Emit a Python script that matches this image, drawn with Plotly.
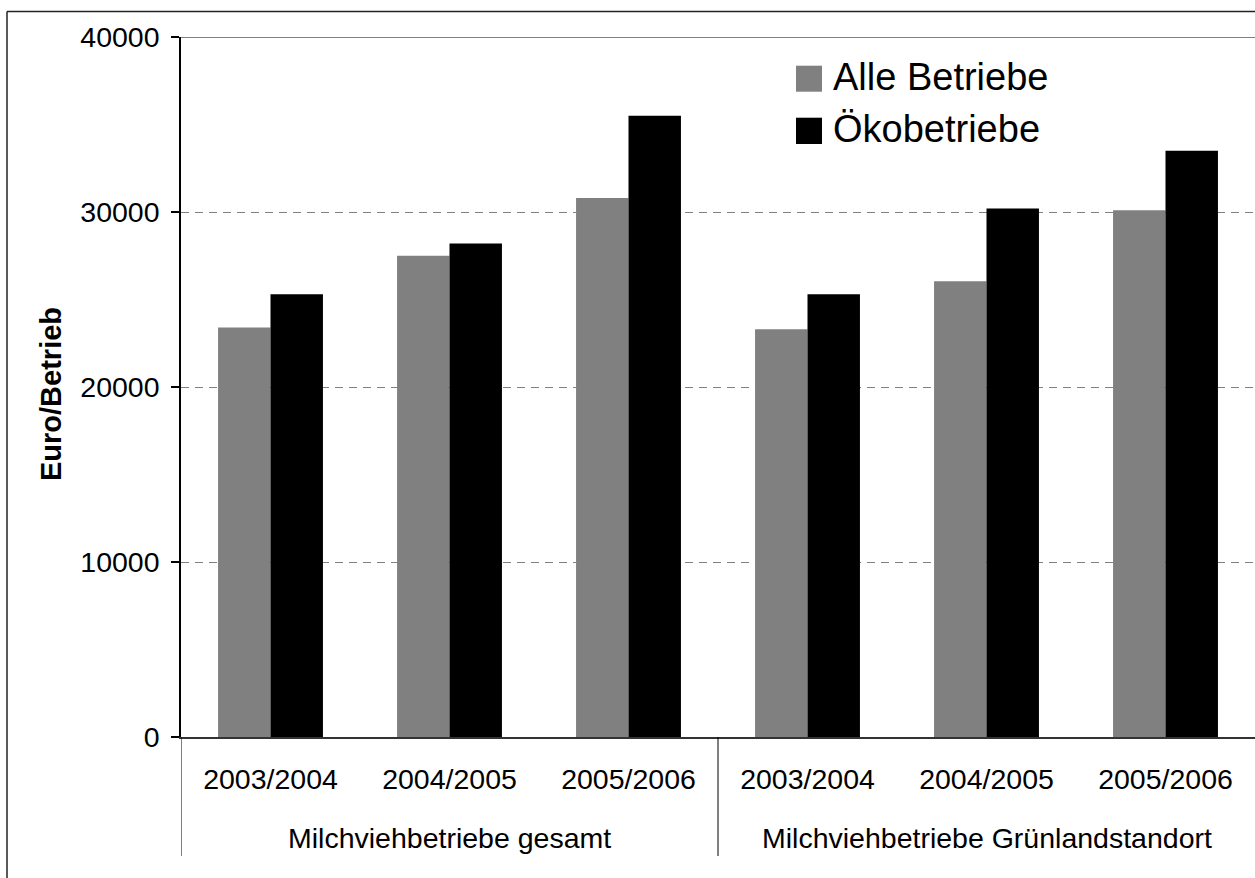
import plotly.graph_objects as go

# Data
years = ["2003/2004", "2004/2005", "2005/2006", "2003/2004", "2004/2005", "2005/2006"]
groups = ["Milchviehbetriebe gesamt", "Milchviehbetriebe Grünlandstandort"]
series_names = ["Alle Betriebe", "Ökobetriebe"]
alle_betriebe = [23400, 27500, 30800, 23300, 26050, 30100]
oekobetriebe = [25300, 28200, 35500, 25300, 30200, 33500]
y_ticks = [0, 10000, 20000, 30000, 40000]

W, H = 1255, 878
ML, MR, MT, MB = 181, 0, 37, 141
PW, PH = W - ML - MR, H - MT - MB
FONT = "Liberation Sans, Arial, sans-serif"
GREY = "#808080"


def px_x(p):
    return (p - ML) / PW


def px_y(p):
    return (H - MB - p) / PH


xs = list(range(len(years)))

fig = go.Figure()
fig.add_trace(go.Bar(x=xs, y=alle_betriebe, name=series_names[0],
                     marker=dict(color=GREY, line=dict(width=0))))
fig.add_trace(go.Bar(x=xs, y=oekobetriebe, name=series_names[1],
                     marker=dict(color="#000000", line=dict(width=0))))

shapes = []
# solid line along the top of the value range
shapes.append(dict(type="line", xref="paper", yref="y", x0=0, x1=1,
                   y0=y_ticks[-1], y1=y_ticks[-1],
                   line=dict(color=GREY, width=2)))
# category dividers below the axis
for xv in [-0.5, 2.5]:
    shapes.append(dict(type="line", xref="x", yref="paper", x0=xv, x1=xv,
                       y0=0, y1=px_y(856), line=dict(color="#000000", width=1)))
# chart frame
shapes.append(dict(type="line", xref="paper", yref="paper",
                   x0=px_x(7), x1=px_x(1262), y0=px_y(11.5), y1=px_y(11.5),
                   line=dict(color="#222222", width=1.5)))
shapes.append(dict(type="line", xref="paper", yref="paper",
                   x0=px_x(7), x1=px_x(7), y0=px_y(11.5), y1=px_y(885),
                   line=dict(color="#222222", width=1.5)))

# legend swatches and labels
legend_colors = [GREY, "#000000"]
legend_rows = [(65.7, 91.7), (117.7, 144.0)]
annotations = []
for name, col, (t, b) in zip(series_names, legend_colors, legend_rows):
    shapes.append(dict(type="rect", xref="paper", yref="paper",
                       x0=px_x(796), x1=px_x(822), y0=px_y(b), y1=px_y(t),
                       fillcolor=col, line=dict(width=0)))
    annotations.append(dict(text=name, xref="paper", yref="paper",
                            x=px_x(831), y=px_y((t + b) / 2 - 2),
                            xanchor="left", yanchor="middle", showarrow=False,
                            font=dict(family=FONT, size=38, color="#000000")))

# group labels
for gi, g in enumerate(groups):
    annotations.append(dict(text=g, xref="x", yref="paper", x=1 + 3 * gi,
                            y=px_y(838), xanchor="center", yanchor="middle",
                            showarrow=False,
                            font=dict(family=FONT, size=28.5, color="#000000")))

# value axis title
annotations.append(dict(text="<b>Euro/Betrieb</b>", xref="paper", yref="paper",
                        x=px_x(51), y=px_y(394), xanchor="center", yanchor="middle",
                        textangle=-90, showarrow=False,
                        font=dict(family=FONT, size=29, color="#000000")))

fig.update_layout(
    width=W, height=H,
    margin=dict(l=ML, r=MR, t=MT, b=MB, pad=0),
    paper_bgcolor="#ffffff", plot_bgcolor="#ffffff",
    barmode="group", bargap=0.414, bargroupgap=0,
    showlegend=False,
    font=dict(family=FONT, size=28.5, color="#000000"),
    shapes=shapes, annotations=annotations,
)
fig.update_xaxes(
    range=[-0.5, len(years) - 0.5], tickvals=xs, ticktext=years,
    showgrid=False, zeroline=False, showline=True, linecolor="#333333",
    linewidth=1.5, ticks="", ticklabelstandoff=16,
    tickfont=dict(family=FONT, size=28.5, color="#000000"),
)
fig.update_yaxes(
    range=[0, 40000], tickvals=y_ticks, ticktext=[str(v) for v in y_ticks],
    showgrid=True, gridcolor=GREY, gridwidth=1, griddash="8px,6px",
    zeroline=False, showline=True, linecolor="#000000", linewidth=1.5,
    ticks="outside", ticklen=8, tickcolor="#000000", tickwidth=1.5,
    ticklabelstandoff=6,
    tickfont=dict(family=FONT, size=28.5, color="#000000"),
)

fig.write_html("out.html")
